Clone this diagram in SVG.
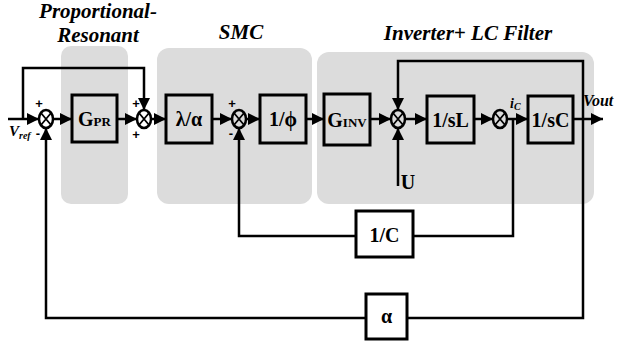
<svg xmlns="http://www.w3.org/2000/svg" width="618" height="347" viewBox="0 0 618 347">
<defs>
<marker id="ah" viewBox="0 0 12 12" refX="12" refY="6" markerWidth="12" markerHeight="12" markerUnits="userSpaceOnUse" orient="auto">
<path d="M0,0 L12,6 L0,12 Z" fill="#000"/>
</marker>
</defs>
<style>
.region{fill:#dcdcdc;stroke:none}
.blk{fill:none;stroke:#000;stroke-width:3}
.wire{fill:none;stroke:#000;stroke-width:2.5}
.arr{fill:none;stroke:#000;stroke-width:2.5;marker-end:url(#ah)}
.sum{fill:none;stroke:#000;stroke-width:2.5}
.x{fill:none;stroke:#000;stroke-width:1.8}
.title{font-family:"Liberation Serif",serif;font-weight:bold;font-style:italic;font-size:21px;fill:#000;text-anchor:middle}
.lbl{font-family:"Liberation Serif",serif;font-weight:bold;font-size:20px;fill:#000;text-anchor:middle}
.sub{font-size:13px}
.sign{font-family:"Liberation Sans",sans-serif;font-weight:bold;font-size:13px;fill:#000;text-anchor:middle}
.it{font-family:"Liberation Serif",serif;font-weight:bold;font-style:italic;fill:#000}
</style>
<rect width="618" height="347" fill="#fff"/>
<g id="regions">
<rect class="region" x="61" y="46" width="67" height="158" rx="10"/>
<rect class="region" x="157" y="48" width="155" height="156" rx="12"/>
<rect class="region" x="317" y="52" width="277" height="152" rx="12"/>
</g>
<g id="titles">
<text class="title" x="98" y="18">Proportional-</text>
<text class="title" x="98" y="42">Resonant</text>
<text class="title" x="241" y="39">SMC</text>
<text class="title" x="468" y="40" font-size="22">Inverter+ LC Filter</text>
</g>
<g id="connectors">
<line class="arr" x1="8" y1="119" x2="39" y2="119"/>
<polyline class="arr" points="23,119 23,68 144,68 144,110"/>
<line class="arr" x1="53" y1="119" x2="72" y2="119"/>
<line class="arr" x1="117" y1="119" x2="137" y2="119"/>
<line class="arr" x1="151" y1="119" x2="166" y2="119"/>
<line class="arr" x1="212" y1="119" x2="232" y2="119"/>
<line class="arr" x1="246" y1="119" x2="260" y2="119"/>
<line class="arr" x1="306" y1="119" x2="324" y2="119"/>
<line class="arr" x1="370" y1="119" x2="391" y2="119"/>
<polyline class="arr" points="583,119 583,61 398,61 398,110"/>
<line class="arr" x1="398" y1="186" x2="398" y2="128"/>
<line class="arr" x1="405" y1="119" x2="427" y2="119"/>
<line class="arr" x1="474" y1="119" x2="493" y2="119"/>
<line class="arr" x1="507" y1="119" x2="528" y2="119"/>
<line class="arr" x1="573" y1="119" x2="603" y2="119"/>
<polyline class="wire" points="513,119 513,236 413,236"/>
<polyline class="arr" points="356,236 239,236 239,128"/>
<polyline class="wire" points="583,119 583,318 407,318"/>
<polyline class="arr" points="366,318 46,318 46,128"/>
</g>
<g id="sum1"><ellipse class="sum" cx="46" cy="119" rx="7" ry="9"/><path class="x" d="M41,113 L51,125 M51,113 L41,125"/></g>
<g id="sum2"><ellipse class="sum" cx="144" cy="119" rx="7" ry="9"/><path class="x" d="M139,113 L149,125 M149,113 L139,125"/></g>
<g id="sum3"><ellipse class="sum" cx="239" cy="119" rx="7" ry="9"/><path class="x" d="M234,113 L244,125 M244,113 L234,125"/></g>
<g id="sum4"><ellipse class="sum" cx="398" cy="119" rx="7" ry="9"/><path class="x" d="M393,113 L403,125 M403,113 L393,125"/></g>
<g id="sum5"><ellipse class="sum" cx="500" cy="119" rx="7" ry="9"/><path class="x" d="M495,113 L505,125 M505,113 L495,125"/></g>
<g id="signs">
<text class="sign" x="39" y="108">+</text>
<text class="sign" x="38" y="138">-</text>
<text class="sign" x="136" y="108">+</text>
<text class="sign" x="136" y="139">+</text>
<text class="sign" x="232" y="108">+</text>
<text class="sign" x="231" y="138">-</text>
</g>
<g id="GPR"><rect class="blk" x="72" y="95" width="45" height="47"/><text class="lbl" x="94.5" y="126">G<tspan class="sub">PR</tspan></text></g>
<g id="lambda"><rect class="blk" x="166" y="95" width="46" height="48"/><text class="lbl" x="189" y="126">λ/α</text></g>
<g id="phi"><rect class="blk" x="260" y="95" width="46" height="48"/><text class="lbl" x="283" y="126">1/ϕ</text></g>
<g id="GINV"><rect class="blk" x="324" y="94" width="46" height="51"/><text class="lbl" x="347" y="127">G<tspan class="sub">INV</tspan></text></g>
<g id="sL"><rect class="blk" x="427" y="96" width="47" height="47"/><text class="lbl" x="450.5" y="127">1/sL</text></g>
<g id="sC"><rect class="blk" x="528" y="96" width="45" height="47"/><text class="lbl" x="550.5" y="127">1/sC</text></g>
<g id="invC"><rect class="blk" x="356" y="211" width="57" height="46"/><text class="lbl" x="384.5" y="242">1/C</text></g>
<g id="alpha"><rect class="blk" x="366" y="294" width="41" height="45"/><text class="lbl" x="386.5" y="323">α</text></g>
<g id="labels">
<text class="it" x="9" y="136" font-size="15">V<tspan font-size="10" dy="3">ref</tspan></text>
<text class="it" x="583" y="106" font-size="16">Vout</text>
<text class="it" x="510" y="108" font-size="14">i<tspan font-size="10" dy="2">C</tspan></text>
<text class="lbl" x="408" y="189" font-size="15">U</text>
</g>
</svg>
